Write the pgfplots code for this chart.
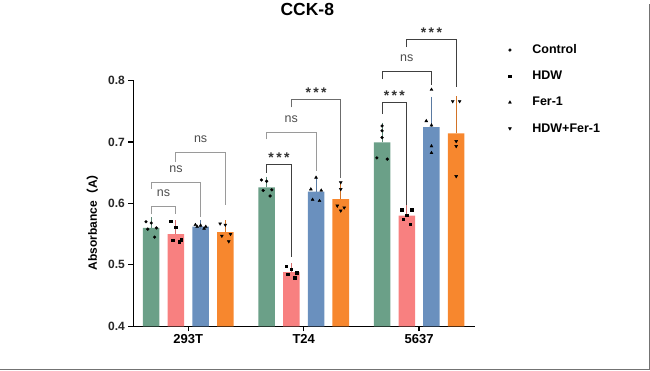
\documentclass[border=0pt]{standalone}
\usepackage{fontspec}
\setmainfont{Liberation Sans}
\newfontfamily\cjk{Noto Sans CJK SC}
\usepackage{pgfplots}
\pgfplotsset{compat=1.18}
\definecolor{cC}{HTML}{6BA088}
\definecolor{cH}{HTML}{F88080}
\definecolor{cF}{HTML}{6A90BE}
\definecolor{cHF}{HTML}{F7872E}
\definecolor{brk}{HTML}{9A9A9A}
\definecolor{brkd}{HTML}{404040}
\begin{document}
\begin{tikzpicture}[x=1pt,y=1pt]
\path (-133,-44) rectangle (517,322);
\draw[black!55, line width=0.8pt] (516.4,322) -- (516.4,-43.4) -- (-133,-43.4);
\begin{axis}[at={(0,0)}, anchor=south west, scale only axis,
  width=342pt, height=246pt,
  xmin=-0.476, xmax=2.485, ymin=0.4, ymax=0.8,
  clip mode=individual,
  axis x line*=bottom, axis y line*=left,
  axis line style={line width=1.3pt, -},
  xtick={0,1,2}, xticklabels={293T,T24,5637},
  ytick={0.4,0.5,0.6,0.7,0.8},
  /pgf/number format/assume math mode=true,
  yticklabel style={/pgf/number format/fixed,/pgf/number format/precision=1,/pgf/number format/fixed zerofill, font=\bfseries\fontsize{12}{12}\selectfont, text=black!85},
  xticklabel style={font=\bfseries\fontsize{13}{14}\selectfont},
  tick align=outside, major tick length=5pt,
  tick style={line width=1.3pt, black},
  ylabel={Absorbance{\cjk （}A{\cjk ）}},
  ylabel style={at={(axis description cs:-0.12,0.435)}, anchor=center, font=\bfseries\fontsize{12}{12}\selectfont},
  title={CCK-8},
  title style={at={(axis description cs:0.509,1.264)}, anchor=center, font=\bfseries\fontsize{17.5}{18}\selectfont},
  legend style={at={(axis description cs:1.097,1.15)}, anchor=north west, draw=none, fill=none,
    font=\bfseries\fontsize{12.5}{13}\selectfont, row sep=14pt, inner sep=0pt,
    nodes={inner sep=1pt},
    /tikz/every odd column/.append style={column sep=20pt}},
  legend cell align=left,
]
% bars
\addplot[ybar, bar width=0.143, bar shift=0pt, fill=cC, draw=none, forget plot,
  error bars/.cd, y dir=plus, y explicit,
  error bar style={line width=1pt, cC!85!black}, error mark options={mark size=4.5pt, line width=1pt, cC!85!black}]
  coordinates {(-0.321,0.560) +- (0,0.010) (0.679,0.626) +- (0,0.010) (1.679,0.699) +- (0,0.025)};
\addplot[ybar, bar width=0.143, bar shift=0pt, fill=cH, draw=none, forget plot,
  error bars/.cd, y dir=plus, y explicit,
  error bar style={line width=1pt, cH!85!black}, error mark options={mark size=4.5pt, line width=1pt, cH!85!black}]
  coordinates {(-0.107,0.550) +- (0,0.015) (0.893,0.488) +- (0,0.007) (1.893,0.580) +- (0,0.010)};
\addplot[ybar, bar width=0.143, bar shift=0pt, fill=cF, draw=none, forget plot,
  error bars/.cd, y dir=plus, y explicit,
  error bar style={line width=1pt, cF!85!black}, error mark options={mark size=4.5pt, line width=1pt, cF!85!black}]
  coordinates {(0.107,0.562) +- (0,0.003) (1.107,0.619) +- (0,0.016) (2.107,0.724) +- (0,0.042)};
\addplot[ybar, bar width=0.143, bar shift=0pt, fill=cHF, draw=none, forget plot,
  error bars/.cd, y dir=plus, y explicit,
  error bar style={line width=1pt, cHF!85!black}, error mark options={mark size=4.5pt, line width=1pt, cHF!85!black}]
  coordinates {(0.321,0.553) +- (0,0.012) (1.321,0.607) +- (0,0.020) (2.321,0.714) +- (0,0.053)};
% points
\addplot[only marks, mark=*, mark size=1.4pt, black] coordinates {
 (-0.366,0.570) (-0.321,0.568) (-0.276,0.560) (-0.351,0.558) (-0.291,0.545)
 (0.634,0.638) (0.679,0.636) (0.724,0.622) (0.649,0.621) (0.709,0.612)
 (1.679,0.726) (1.679,0.718) (1.679,0.707) (1.634,0.674) (1.724,0.672)};
\addlegendentry{Control}
\addplot[only marks, mark=square*, mark size=1.3pt, black] coordinates {
 (-0.152,0.571) (-0.107,0.561) (-0.062,0.541) (-0.137,0.540) (-0.077,0.538)
 (0.848,0.498) (0.893,0.493) (0.938,0.487) (0.863,0.485) (0.923,0.479)
 (1.848,0.590) (1.938,0.590) (1.893,0.581) (1.863,0.574) (1.923,0.566)};
\addlegendentry{HDW}
\addplot[only marks, mark=triangle*, mark size=1.7pt, black] coordinates {
 (0.062,0.565) (0.107,0.564) (0.152,0.562) (0.077,0.562) (0.137,0.559)
 (1.107,0.642) (1.062,0.623) (1.152,0.621) (1.077,0.606) (1.137,0.604)
 (2.107,0.785) (2.062,0.734) (2.107,0.727) (2.107,0.693) (2.107,0.682)};
\addlegendentry{Fer-1}
\addplot[only marks, mark=triangle*, mark options={rotate=180}, mark size=1.7pt, black] coordinates {
 (0.276,0.567) (0.321,0.565) (0.366,0.550) (0.291,0.547) (0.351,0.538)
 (1.321,0.634) (1.321,0.623) (1.291,0.596) (1.351,0.593) (1.321,0.588)
 (2.291,0.766) (2.351,0.766) (2.321,0.701) (2.321,0.693) (2.321,0.644)};
\addlegendentry{HDW+Fer-1}
% significance brackets 293T
\draw[brk, line width=1pt] (axis cs:-0.321,0.582) |- (axis cs:-0.107,0.595) -- (axis cs:-0.107,0.582);
\node[anchor=base, font=\fontsize{12.5}{12}\selectfont, text=black!70, inner sep=0pt] at (axis cs:-0.214,0.611) {ns};
\draw[brk, line width=1pt] (axis cs:-0.321,0.624) |- (axis cs:0.107,0.634) -- (axis cs:0.107,0.577);
\node[anchor=base, font=\fontsize{12.5}{12}\selectfont, text=black!70, inner sep=0pt] at (axis cs:-0.107,0.650) {ns};
\draw[brk, line width=1pt] (axis cs:-0.107,0.668) |- (axis cs:0.321,0.683) -- (axis cs:0.321,0.598);
\node[anchor=base, font=\fontsize{12.5}{12}\selectfont, text=black!70, inner sep=0pt] at (axis cs:0.107,0.699) {ns};
% T24
\draw[brkd, line width=1pt] (axis cs:0.679,0.650) |- (axis cs:0.893,0.663) -- (axis cs:0.893,0.512);
\node[anchor=base, font=\bfseries\fontsize{14}{14}\selectfont, text=black!80, inner sep=0pt] at (axis cs:0.786,0.666) {*\,*\,*};
\draw[brk, line width=1pt] (axis cs:0.679,0.704) |- (axis cs:1.107,0.715) -- (axis cs:1.107,0.652);
\node[anchor=base, font=\fontsize{12.5}{12}\selectfont, text=black!70, inner sep=0pt] at (axis cs:0.893,0.731) {ns};
\draw[brk!70!black, line width=1pt] (axis cs:0.893,0.756) |- (axis cs:1.321,0.769) -- (axis cs:1.321,0.642);
\node[anchor=base, font=\bfseries\fontsize{14}{14}\selectfont, text=black!80, inner sep=0pt] at (axis cs:1.107,0.772) {*\,*\,*};
% 5637
\draw[brkd, line width=1pt] (axis cs:1.679,0.745) |- (axis cs:1.893,0.764) -- (axis cs:1.893,0.598);
\node[anchor=base, font=\bfseries\fontsize{14}{14}\selectfont, text=black!80, inner sep=0pt] at (axis cs:1.786,0.767) {*\,*\,*};
\draw[brkd, line width=1pt] (axis cs:1.679,0.802) |- (axis cs:2.107,0.815) -- (axis cs:2.107,0.793);
\node[anchor=base, font=\fontsize{12.5}{12}\selectfont, text=black!70, inner sep=0pt] at (axis cs:1.893,0.831) {ns};
\draw[brkd, line width=1pt] (axis cs:1.893,0.854) |- (axis cs:2.321,0.867) -- (axis cs:2.321,0.790);
\node[anchor=base, font=\bfseries\fontsize{14}{14}\selectfont, text=black!80, inner sep=0pt] at (axis cs:2.107,0.870) {*\,*\,*};
\end{axis}
\end{tikzpicture}
\end{document}
